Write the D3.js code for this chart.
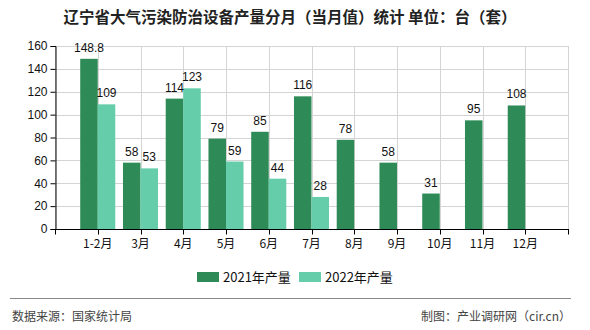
<!DOCTYPE html>
<html>
<head>
<meta charset="utf-8">
<script src="https://cdn.jsdelivr.net/npm/d3@7"></script>
<style>
  html, body { margin: 0; padding: 0; background: #fff; }
  svg { display: block; font-family: "Noto Sans CJK SC", "Noto Sans", sans-serif; }
</style>
</head>
<body>
<svg id="chart" width="590" height="330"></svg>
<script>
// Monthly output of air-pollution control equipment, Liaoning (units: sets)
const months = ["1-2月", "3月", "4月", "5月", "6月", "7月", "8月", "9月", "10月", "11月", "12月"];
const output2021 = [148.8, 58, 114, 79, 85, 116, 78, 58, 31, 95, 108];
const output2022 = [109, 53, 123, 59, 44, 28, null, null, null, null, null];
const yTicks = [0, 20, 40, 60, 80, 100, 120, 140, 160];
const seriesNames = ["2021年产量", "2022年产量"];
const seriesColors = ["#2e8b57", "#66cdaa"];

const svg = d3.select("#chart");
const plotL = 55, plotR = 568, plotT = 46, plotB = 229;

const x = d3.scalePoint().domain(months).range([plotL, plotR]).padding(1);
const y = d3.scaleLinear().domain([0, 160]).range([plotB, plotT]);
const step = x.step();
const barW = step * 0.41;

// Title
svg.append("text")
  .attr("x", 290).attr("y", 23)
  .attr("text-anchor", "middle")
  .attr("font-size", 15.5).attr("font-weight", "bold").attr("fill", "#222")
  .text("辽宁省大气污染防治设备产量分月（当月值）统计 单位：台（套）");

// Grid
const grid = svg.append("g").attr("stroke", "#d4d4d4").attr("stroke-width", 1);
yTicks.forEach(t => {
  grid.append("line").attr("x1", plotL).attr("x2", plotR)
    .attr("y1", Math.round(y(t)) + 0.5).attr("y2", Math.round(y(t)) + 0.5);
});
const gridXs = [plotL].concat(months.map(m => x(m)), [plotR]);
gridXs.forEach(gx => {
  grid.append("line").attr("y1", plotT).attr("y2", plotB)
    .attr("x1", Math.round(gx) + 0.5).attr("x2", Math.round(gx) + 0.5);
});

// Bars
const bars = svg.append("g");
const labels = svg.append("g")
  .attr("font-family", "'Liberation Sans', 'DejaVu Sans', sans-serif")
  .attr("font-size", 12).attr("fill", "#111").attr("text-anchor", "middle");

[output2021, output2022].forEach((vals, si) => {
  months.forEach((m, i) => {
    const v = vals[i];
    if (v == null) return;
    const bx = si === 0 ? x(m) - barW : x(m);
    bars.append("rect")
      .attr("x", bx).attr("width", barW)
      .attr("y", y(v)).attr("height", y(0) - y(v))
      .attr("fill", seriesColors[si]);
    labels.append("text")
      .attr("x", bx + barW / 2).attr("y", y(v) - 7)
      .text(String(v));
  });
});

// Axes
const yAxis = d3.axisLeft(y).tickValues(yTicks).tickSize(5).tickPadding(3);
const gy = svg.append("g").attr("transform", `translate(${plotL + 0.5},0)`).call(yAxis);
gy.select(".domain").attr("stroke", "#000");
gy.selectAll(".tick line").attr("stroke", "#000");
gy.selectAll("text").attr("font-size", 12).attr("fill", "#111")
  .attr("font-family", "'Liberation Sans', 'DejaVu Sans', sans-serif");

const gx = svg.append("g").attr("transform", `translate(0,${plotB + 0.5})`);
gx.append("line").attr("x1", plotL).attr("x2", plotR + 1).attr("stroke", "#000");
gridXs.forEach(tx => {
  gx.append("line").attr("x1", Math.round(tx) + 0.5).attr("x2", Math.round(tx) + 0.5)
    .attr("y1", 0).attr("y2", 5).attr("stroke", "#000");
});
months.forEach(m => {
  gx.append("text").attr("x", x(m)).attr("y", 18)
    .attr("text-anchor", "middle").attr("font-size", 12).attr("fill", "#111")
    .text(m);
});

// Legend
const legend = svg.append("g");
const legendItems = [{ x: 197, tx: 223 }, { x: 299, tx: 325 }];
seriesNames.forEach((name, i) => {
  legend.append("rect").attr("x", legendItems[i].x).attr("y", 272)
    .attr("width", 22).attr("height", 10).attr("fill", seriesColors[i]);
  legend.append("text").attr("x", legendItems[i].tx).attr("y", 282)
    .attr("font-size", 13).attr("fill", "#111").text(name);
});

// Footer
svg.append("line").attr("x1", 10).attr("x2", 571).attr("y1", 298.5).attr("y2", 298.5)
  .attr("stroke", "#888").attr("stroke-width", 1);
svg.append("text").attr("x", 12).attr("y", 321)
  .attr("font-size", 12).attr("fill", "#444").text("数据来源：国家统计局");
svg.append("text").attr("x", 571).attr("y", 321).attr("text-anchor", "end")
  .attr("font-size", 12).attr("fill", "#444").text("制图：产业调研网（cir.cn）");
</script>
</body>
</html>
